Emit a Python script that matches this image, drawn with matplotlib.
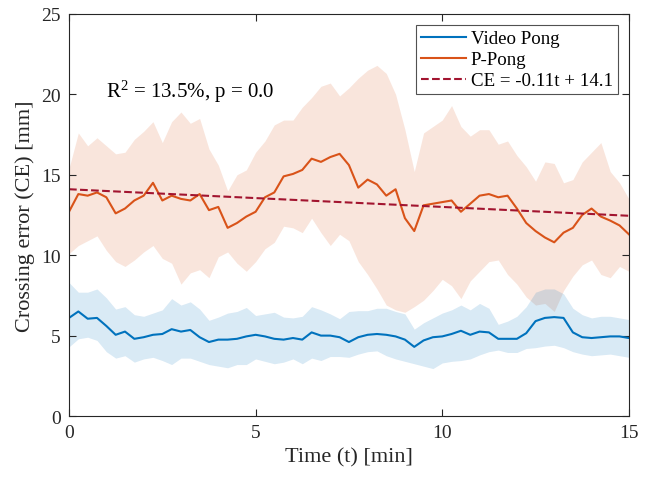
import numpy as np
import matplotlib
matplotlib.use('Agg')
import matplotlib.pyplot as plt

plt.rcParams['font.family'] = ['Liberation Serif', 'DejaVu Serif']
plt.rcParams['mathtext.fontset'] = 'custom'
plt.rcParams['mathtext.rm'] = 'Liberation Serif'
plt.rcParams['mathtext.it'] = 'Liberation Serif:italic'

# time axis, sampled every quarter minute
t = np.arange(0, 15.01, 0.25)

# P-Pong mean and shaded band
p_mean = [12.7, 13.8, 13.7, 13.9, 13.6, 12.6, 12.9, 13.4, 13.7, 14.5,
          13.4, 13.7, 13.5, 13.4, 13.8, 12.8, 13.0, 11.7, 12.0, 12.4,
          12.7, 13.6, 13.9, 14.9, 15.05, 15.3, 16.0, 15.8, 16.1, 16.3,
          15.6, 14.2, 14.7, 14.4, 13.7, 14.1, 12.3, 11.5, 13.1, 13.2,
          13.3, 13.4, 12.7, 13.2, 13.7, 13.8, 13.6, 13.7, 12.9, 12.0,
          11.5, 11.1, 10.8, 11.4, 11.7, 12.5, 12.9, 12.4, 12.15, 11.85, 11.3]
p_upper = [15.4, 17.6, 16.8, 17.3, 16.8, 16.3, 16.4, 17.2, 17.7, 18.3,
           17.0, 18.3, 18.9, 18.2, 18.5, 16.6, 15.6, 14.0, 15.0, 15.3,
           16.4, 17.1, 18.1, 18.4, 18.4, 19.2, 19.8, 20.5, 20.7, 19.9,
           20.4, 21.0, 21.5, 21.8, 21.3, 20.0, 17.8, 15.2, 17.6, 18.0,
           18.4, 19.3, 18.0, 17.4, 17.8, 17.8, 16.9, 17.1, 16.2, 15.5,
           14.6, 15.8, 15.7, 14.5, 14.7, 15.8, 16.4, 17.0, 15.2, 14.5, 13.5]
p_lower = [10.1, 10.6, 10.9, 11.2, 10.3, 9.6, 9.3, 9.7, 10.2, 10.6,
           9.8, 9.5, 8.2, 8.9, 9.1, 8.6, 9.9, 10.2, 9.5, 9.0,
           9.6, 10.4, 10.8, 11.8, 11.7, 11.4, 12.3, 11.4, 10.6, 11.3,
           10.9, 9.6, 8.8, 7.9, 6.9, 6.6, 6.45, 6.8, 7.2, 7.8,
           8.5, 8.1, 7.3, 8.4, 9.0, 9.6, 9.7, 8.8, 8.2, 7.4,
           6.9, 7.0, 6.5, 7.8, 8.7, 9.4, 9.7, 8.8, 8.6, 9.3, 9.0]

# Video Pong mean and shaded band
v_mean = [6.1, 6.5, 6.05, 6.1, 5.6, 5.05, 5.25, 4.8, 4.9, 5.05,
          5.1, 5.4, 5.25, 5.35, 4.9, 4.6, 4.75, 4.75, 4.8, 4.95,
          5.05, 4.95, 4.8, 4.75, 4.85, 4.75, 5.2, 5.0, 5.0, 4.9,
          4.6, 4.9, 5.05, 5.1, 5.05, 4.95, 4.75, 4.3, 4.7, 4.9,
          4.95, 5.1, 5.3, 5.05, 5.25, 5.2, 4.8, 4.8, 4.8, 5.15,
          5.9, 6.1, 6.15, 6.1, 5.2, 4.9, 4.85, 4.9, 4.95, 4.95, 4.85]
v_upper = [8.3, 7.7, 7.7, 7.9, 7.35, 6.65, 6.8, 6.3, 6.2, 6.4,
           6.6, 7.3, 6.9, 7.1, 6.65, 5.95, 6.15, 6.4, 6.5, 6.75,
           6.25, 6.35, 6.45, 6.15, 6.1, 6.2, 6.8, 6.6, 6.35, 6.05,
           6.5, 6.55, 6.55, 6.7, 6.7, 6.5, 6.35, 5.4, 5.8, 6.1,
           6.4, 6.6, 6.9, 6.6, 7.0, 6.7, 5.7, 5.9, 6.2, 6.8,
           7.7, 7.9, 7.9, 7.6, 6.7, 6.3, 6.1, 6.2, 6.2, 6.1, 6.0]
v_lower = [4.3, 4.8, 4.9, 4.7, 4.0, 3.6, 3.75, 3.35, 3.55, 3.65,
           3.45, 3.2, 3.6, 3.6, 3.4, 3.2, 3.1, 3.0, 3.2, 3.2,
           3.55, 3.4, 3.25, 3.35, 3.55, 3.25, 3.6, 3.45, 3.7, 3.7,
           3.65, 3.85, 4.0, 4.05, 3.75, 3.55, 3.4, 3.25, 3.1, 2.95,
           3.3, 3.4, 3.45, 3.55, 3.8, 4.0, 4.1, 3.95, 3.95, 4.2,
           4.25, 4.35, 4.4, 4.25, 4.0, 3.85, 3.75, 3.8, 3.85, 3.75, 3.65]

# linear fit of P-Pong
slope, intercept = -0.11, 14.1

blue = '#0072BD'
orange = '#D95319'
red = '#A2142F'

fig = plt.figure(figsize=(6.51, 4.81), dpi=100)
ax = fig.add_axes([0.106, 0.133, 0.860, 0.836])

ax.fill_between(t, p_lower, p_upper, color=orange, alpha=0.15, lw=0)
ax.fill_between(t, v_lower, v_upper, color=blue, alpha=0.15, lw=0)
ax.plot(t, v_mean, color=blue, lw=1.5, label='Video Pong')
ax.plot(t, p_mean, color=orange, lw=1.5, label='P-Pong')
ax.plot(t, slope * t + intercept, '--', color=red, lw=1.5,
        label='CE = -0.11t + 14.1')

ax.text(0.98, 20.2, r'R$^{2}$ = 13.5%, p = 0.0', fontsize=15, va='center')

ax.set_xlim(0, 15)
ax.set_ylim(0, 25)
ax.set_xticks([0, 5, 10, 15])
ax.set_yticks([0, 5, 10, 15, 20, 25])
ax.tick_params(direction='in', top=True, right=True, length=5,
               labelsize=14, colors='#262626', pad=6)
for s in ax.spines.values():
    s.set_color('#262626')
    s.set_linewidth(0.8)
ax.set_xlabel('Time (t) [min]', fontsize=16, color='#262626')
ax.set_ylabel('Crossing error (CE) [mm]', fontsize=16, color='#262626')

leg = ax.legend(loc='upper right', fontsize=13.6, frameon=True, fancybox=False,
                edgecolor='#262626', borderaxespad=0.6, handlelength=2.4,
                handletextpad=0.25, borderpad=0.25, labelspacing=0.2)
leg.get_frame().set_linewidth(0.8)

fig.savefig('out.png', dpi=100)
